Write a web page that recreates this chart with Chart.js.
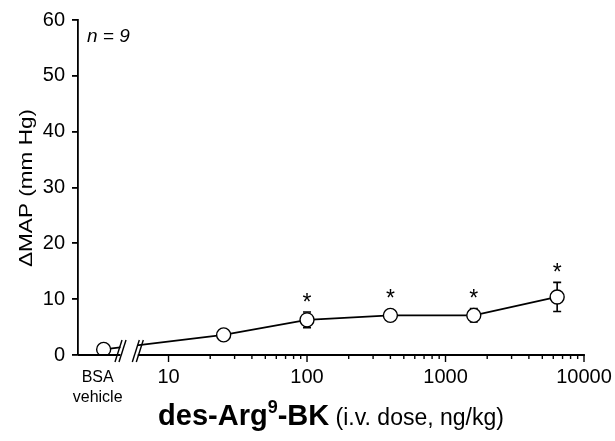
<!DOCTYPE html>
<html>
<head>
<meta charset="utf-8">
<script src="https://cdn.jsdelivr.net/npm/chart.js@4.4.0/dist/chart.umd.min.js"></script>
<style>
  html, body { margin: 0; padding: 0; background: #fff; }
  #wrap { width: 615px; height: 441px; }
</style>
</head>
<body>
<div id="wrap"><canvas id="chart" width="615" height="441"></canvas></div>
<script>
// des-Arg9-BK dose response
const doses = [25, 100, 400, 1600, 6400];
const meanMAP = [3.6, 6.3, 7.1, 7.1, 10.4];
const semMAP = [0.6, 1.4, 0.6, 1.2, 2.6];
const significant = [false, true, true, true, true];

const vehicleMean = 1.0;
const vehicleSem = 0.4;
const vehicleLabel = ["BSA", "vehicle"];

const yTicks = [0, 10, 20, 30, 40, 50, 60];
const xMajor = [10, 100, 1000, 10000];
const xMinor = [20, 30, 40, 50, 60, 70, 80, 90,
	200, 300, 400, 500, 600, 700, 800, 900,
	2000, 3000, 4000, 5000, 6000, 7000, 8000, 9000];

// where the vehicle point and the axis break sit on the dose axis
const xMin = 2.22;
const xMax = 10000;
const vehicleX = 3.4;
const breakLo = 4.5;
const breakHi = 6;

const FONT = "'Liberation Sans', Arial, Helvetica, sans-serif";

const decorations = {
	id: "decorations",
	beforeDatasetsDraw(chart) {
		const { ctx, scales: { x, y } } = chart;
		const bars = [{ x: vehicleX, m: vehicleMean, s: vehicleSem }].concat(
			doses.map((d, i) => ({ x: d, m: meanMAP[i], s: semMAP[i] }))
		);
		ctx.save();
		ctx.strokeStyle = "#000";
		ctx.lineWidth = 1.6;
		bars.forEach((b) => {
			const px = x.getPixelForValue(b.x);
			const top = y.getPixelForValue(b.m + b.s);
			const bot = y.getPixelForValue(b.m - b.s);
			ctx.beginPath();
			ctx.moveTo(px, top);
			ctx.lineTo(px, bot);
			ctx.moveTo(px - 4, top);
			ctx.lineTo(px + 4, top);
			ctx.moveTo(px - 4, bot);
			ctx.lineTo(px + 4, bot);
			ctx.stroke();
		});
		ctx.restore();
	},
	afterDatasetsDraw(chart) {
		const { ctx, chartArea, scales: { x, y } } = chart;
		const axisY = chartArea.bottom;
		const b1 = x.getPixelForValue(breakLo);
		const b2 = x.getPixelForValue(breakHi);

		ctx.save();
		// gap in the data line at the break
		ctx.fillStyle = "#fff";
		ctx.fillRect(b1, axisY - 30, b2 - b1, 29);

		// x axis in two pieces
		ctx.strokeStyle = "#000";
		ctx.lineWidth = 1.8;
		ctx.beginPath();
		ctx.moveTo(chartArea.left, axisY);
		ctx.lineTo(b1, axisY);
		ctx.moveTo(b2, axisY);
		ctx.lineTo(chartArea.right + 0.9, axisY);
		ctx.stroke();

		// break marks //
		ctx.lineWidth = 1.4;
		[b1, b2].forEach((c) => {
			[-2, 2].forEach((off) => {
				ctx.beginPath();
				ctx.moveTo(c + off - 3.5, axisY + 7);
				ctx.lineTo(c + off + 3.5, axisY - 15);
				ctx.stroke();
			});
		});

		// tick marks on the log axis
		ctx.lineWidth = 1.4;
		x.ticks.forEach((t) => {
			const px = x.getPixelForValue(t.value);
			const len = xMajor.includes(t.value) ? 7 : 4;
			ctx.beginPath();
			ctx.moveTo(px, axisY);
			ctx.lineTo(px, axisY + len);
			ctx.stroke();
		});

		// significance stars
		ctx.fillStyle = "#000";
		ctx.font = "23px " + FONT;
		ctx.textAlign = "center";
		ctx.textBaseline = "alphabetic";
		doses.forEach((d, i) => {
			if (!significant[i]) return;
			const px = x.getPixelForValue(d);
			const top = Math.min(
				y.getPixelForValue(meanMAP[i] + semMAP[i]),
				y.getPixelForValue(meanMAP[i]) - 7
			);
			ctx.fillText("*", px, top - 14 + 12);
		});
		ctx.restore();
	},
	afterDraw(chart) {
		const { ctx, scales: { x } } = chart;
		ctx.save();
		ctx.fillStyle = "#000";

		// y title
		const yTitle = "\u0394MAP (mm Hg)";
		ctx.font = "19px " + FONT;
		const w = ctx.measureText(yTitle).width;
		ctx.translate(32, 188);
		ctx.rotate(-Math.PI / 2);
		ctx.scale(158 / w, 1);
		ctx.textAlign = "center";
		ctx.textBaseline = "alphabetic";
		ctx.fillText(yTitle, 0, 0);
		ctx.setTransform(1, 0, 0, 1, 0, 0);

		// vehicle label under the vehicle point
		ctx.font = "16px " + FONT;
		ctx.textAlign = "center";
		const vx = x.getPixelForValue(vehicleX) - 6;
		ctx.fillText(vehicleLabel[0], vx, 382);
		ctx.fillText(vehicleLabel[1], vx, 402);

		// n = 9
		ctx.font = "italic 19px " + FONT;
		ctx.textAlign = "left";
		ctx.fillText("n = 9", 87, 42);

		// x title: des-Arg9-BK (i.v. dose, ng/kg)
		const parts = [
			{ t: "des-Arg", f: "bold 29px " + FONT, dy: 0 },
			{ t: "9", f: "bold 18px " + FONT, dy: -12 },
			{ t: "-BK", f: "bold 29px " + FONT, dy: 0 },
			{ t: " (i.v. dose, ng/kg)", f: "23px " + FONT, dy: 0 },
		];
		let total = 0;
		parts.forEach((p) => {
			ctx.font = p.f;
			p.w = ctx.measureText(p.t).width;
			total += p.w;
		});
		let cx = 331 - total / 2;
		ctx.textAlign = "left";
		parts.forEach((p) => {
			ctx.font = p.f;
			ctx.fillText(p.t, cx, 425 + p.dy);
			cx += p.w;
		});
		ctx.restore();
	},
};

const ctx = document.getElementById("chart").getContext("2d");

new Chart(ctx, {
	type: "line",
	data: {
		datasets: [
			{
				data: [{ x: vehicleX, y: vehicleMean }].concat(
					doses.map((d, i) => ({ x: d, y: meanMAP[i] }))
				),
				borderColor: "#000",
				borderWidth: 1.7,
				pointRadius: 7,
				pointBackgroundColor: "#fff",
				pointBorderColor: "#000",
				pointBorderWidth: 1.4,
				tension: 0,
				fill: false,
			},
		],
	},
	options: {
		responsive: false,
		animation: false,
		devicePixelRatio: 1,
		layout: { padding: { left: 0, top: 20, right: 31, bottom: 0 } },
		plugins: {
			legend: { display: false },
			tooltip: { enabled: false },
		},
		scales: {
			x: {
				type: "logarithmic",
				min: xMin,
				max: xMax,
				bounds: "data",
				afterBuildTicks: (s) => {
					s.ticks = xMajor.concat(xMinor).sort((a, b) => a - b).map((v) => ({ value: v }));
				},
				afterFit: (s) => {
					s.height = 86;
				},
				grid: { display: false, drawTicks: true, tickLength: 7 },
				border: { display: false },
				ticks: {
					autoSkip: false,
					maxRotation: 0,
					padding: 3,
					color: "#000",
					font: { family: FONT, size: 20 },
					callback: (v) => (xMajor.includes(v) ? String(v) : ""),
				},
			},
			y: {
				min: 0,
				max: 60,
				afterBuildTicks: (s) => {
					s.ticks = yTicks.map((v) => ({ value: v }));
				},
				afterFit: (s) => {
					s.width = 78;
				},
				grid: { drawOnChartArea: false, tickLength: 6, color: "#000", lineWidth: 1.8 },
				border: { color: "#000", width: 1.8 },
				ticks: {
					padding: 7,
					color: "#000",
					font: { family: FONT, size: 20 },
				},
			},
		},
	},
	plugins: [decorations],
});
</script>
</body>
</html>
